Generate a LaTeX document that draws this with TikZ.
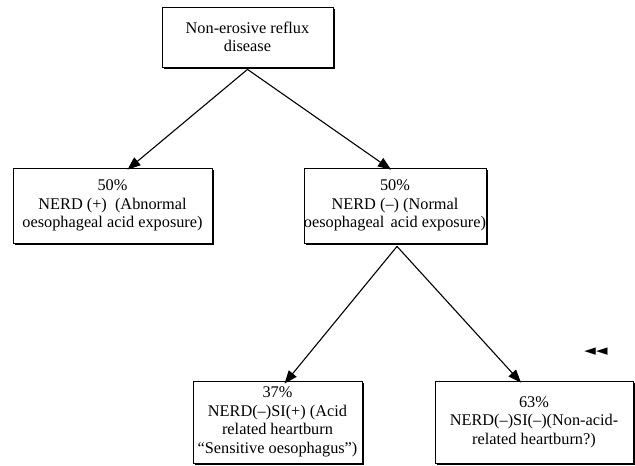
\documentclass[tikz,border=0pt]{standalone}
\usepackage{fontspec}
\setmainfont{Liberation Serif}
\newfontfamily\symfont{DejaVu Sans}
\usetikzlibrary{arrows.meta,shadows}
\begin{document}
\begin{tikzpicture}[x=1pt,y=-1pt,
  box/.style={draw=black,line width=0.8pt,fill=white,align=center,inner sep=0pt,
    font=\fontsize{16.3}{18.5}\selectfont,
    drop shadow={shadow xshift=1.8pt,shadow yshift=-1.8pt,fill=black,opacity=1}},
  arr/.style={line width=1.1pt,-{Triangle[length=13pt,width=10pt]}}]
\useasboundingbox (0,0) rectangle (635,466);
\node[box,minimum width=171pt,minimum height=60pt] (top) at (247.5,37) {Non-erosive reflux\\disease};
\node[box,minimum width=199pt,minimum height=75pt] (left) at (112.5,205.5) {50\%\\NERD (+)\ \ (Abnormal\\oesophageal acid exposure)};
\node[box,minimum width=167pt,minimum height=75pt] (mid) at (395,205.5) {50\%\\NERD (--) (Normal\\oesophageal\hspace{2pt} acid exposure)};
\node[box,minimum width=169pt,minimum height=82pt] (bl) at (277.5,422) {37\%\\NERD(--)SI(+) (Acid\\related heartburn\\“Sensitive oesophagus”)};
\node[box,minimum width=198pt,minimum height=82pt] (br) at (534,422) {63\%\\NERD(--)SI(--)(Non-acid-\\related heartburn?)};
\node[font=\symfont\fontsize{15}{18}\selectfont,inner sep=0pt] (mark) at (596,352) {◄◄};
\draw[arr] ([yshift=-2pt]top.south) -- ([xshift=15pt,yshift=-2pt]left.north);
\draw[arr] ([yshift=-2pt]top.south) -- ([xshift=-4pt,yshift=-2pt]mid.north);
\draw[arr] ([xshift=2pt,yshift=-3pt]mid.south) -- ([xshift=7pt,yshift=-3pt]bl.north);
\draw[arr] ([xshift=2pt,yshift=-3pt]mid.south) -- ([xshift=-13pt,yshift=-2pt]br.north);
\end{tikzpicture}
\end{document}
